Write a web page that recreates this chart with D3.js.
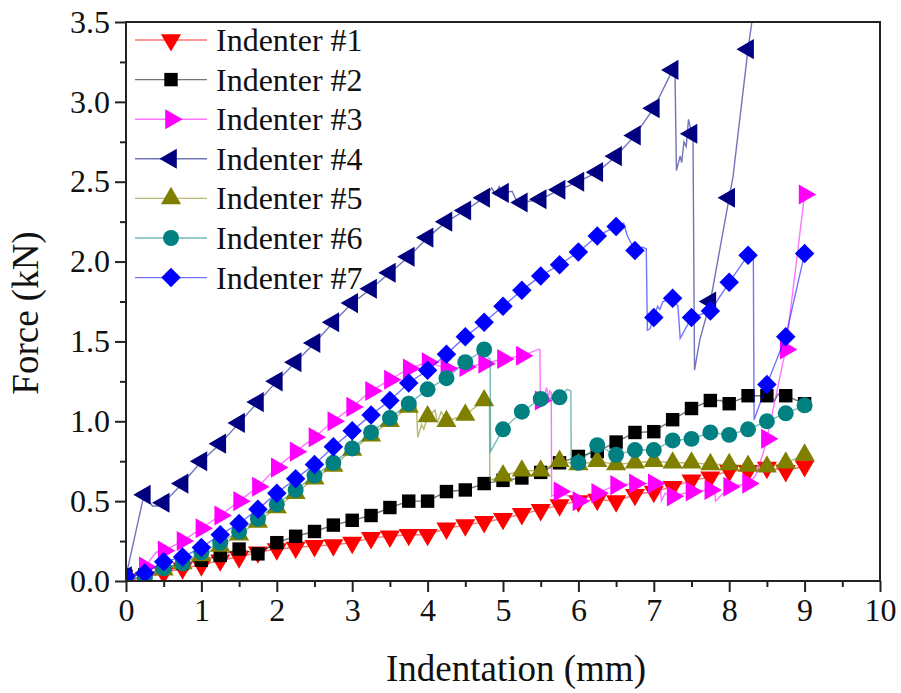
<!DOCTYPE html>
<html>
<head>
<meta charset="utf-8">
<script src="https://cdn.jsdelivr.net/npm/d3@7/dist/d3.min.js"></script>
<style>
  body { margin: 0; background: #fff; }
  text { font-family: "Liberation Serif", "Times New Roman", serif; fill: #111; }
</style>
</head>
<body>
<div id="chart"></div>
<script>
// marker positions (mm) - every 0.25 mm
var indentation = [0, 0.25, 0.5, 0.75, 1, 1.25, 1.5, 1.75, 2, 2.25, 2.5, 2.75, 3, 3.25, 3.5, 3.75,
                   4, 4.25, 4.5, 4.75, 5, 5.25, 5.5, 5.75, 6, 6.25, 6.5, 6.75, 7, 7.25, 7.5, 7.75,
                   8, 8.25, 8.5, 8.75, 9];

// force (kN) at each marker
var ind1 = [0.01, 0.02, 0.05, 0.08, 0.10, 0.13, 0.15, 0.18, 0.20, 0.21, 0.22, 0.225, 0.24, 0.27, 0.28, 0.29,
            0.29, 0.33, 0.35, 0.37, 0.39, 0.42, 0.445, 0.475, 0.50, 0.51, 0.50, 0.54, 0.56, 0.59, 0.63, 0.65,
            0.69, 0.69, 0.71, 0.69, 0.72];
var ind2 = [0.03, 0.04, 0.08, 0.11, 0.13, 0.16, 0.20, 0.17, 0.24, 0.28, 0.31, 0.35, 0.38, 0.41, 0.46, 0.50,
            0.50, 0.56, 0.57, 0.61, 0.63, 0.645, 0.68, 0.74, 0.78, 0.81, 0.87, 0.93, 0.935, 1.01, 1.08, 1.13,
            1.11, 1.16, 1.16, 1.16, 1.11];
var ind3 = [0.00, 0.09, 0.19, 0.25, 0.33, 0.41, 0.50, 0.59, 0.71, 0.81, 0.90, 1.00, 1.09, 1.19, 1.26, 1.33,
            1.37, 1.33, 1.34, 1.36, 1.39, 1.41, 1.13, 0.56, 0.50, 0.55, 0.60, 0.61, 0.61, 0.53, 0.56, 0.57,
            0.59, 0.61, 0.89, 1.45, 2.42];
var ind4 = [0.03, 0.54, 0.49, 0.61, 0.75, 0.86, 0.99, 1.12, 1.25, 1.37, 1.49, 1.62, 1.74, 1.83, 1.93, 2.03,
            2.15, 2.25, 2.32, 2.40, 2.43, 2.37, 2.39, 2.45, 2.50, 2.56, 2.66, 2.79, 2.96, 3.20, 2.80, 1.75,
            2.40, 3.33, null, null, null];
var ind5 = [0.02, 0.01, 0.07, 0.11, 0.16, 0.22, 0.29, 0.37, 0.46, 0.55, 0.64, 0.72, 0.82, 0.91, 1.00, 1.09,
            1.03, 1.00, 1.04, 1.13, 0.66, 0.69, 0.69, 0.75, 0.73, 0.75, 0.73, 0.74, 0.75, 0.74, 0.74, 0.73,
            0.73, 0.72, 0.715, 0.74, 0.79];
var ind6 = [0.02, 0.02, 0.08, 0.11, 0.18, 0.24, 0.31, 0.39, 0.48, 0.57, 0.66, 0.74, 0.83, 0.93, 1.02, 1.11,
            1.20, 1.27, 1.37, 1.45, 0.95, 1.06, 1.14, 1.15, 0.74, 0.85, 0.79, 0.82, 0.82, 0.88, 0.89, 0.93,
            0.915, 0.95, 1.00, 1.05, 1.10];
var ind7 = [0.03, 0.05, 0.12, 0.15, 0.21, 0.29, 0.36, 0.45, 0.55, 0.64, 0.73, 0.84, 0.94, 1.04, 1.13, 1.24,
            1.32, 1.42, 1.53, 1.62, 1.72, 1.82, 1.91, 1.98, 2.06, 2.16, 2.22, 2.07, 1.65, 1.77, 1.65, 1.69,
            1.87, 2.04, 1.23, 1.53, 2.05];

// extra points of the measured curve between markers (drops, wiggles)
var ind1Extra = [];
var ind2Extra = [[7.9, 1.13], [7.95, 1.10], [8.6, 1.13], [8.65, 1.17]];
var ind3Extra = [[0.4, 0.18], [5.47, 1.45], [5.49, 1.45], [5.495, 1.15], [5.55, 1.17], [5.58, 1.21],
                 [5.6, 1.14], [5.62, 1.19], [5.64, 1.18], [5.645, 0.53], [7.08, 0.62], [7.1, 0.50],
                 [7.15, 0.55], [7.8, 0.58], [7.82, 0.50], [8.35, 0.66], [8.45, 0.80]];
var ind4Extra = [[0.22, 0.50], [0.35, 0.47], [0.42, 0.47], [4.85, 2.46], [4.9, 2.42], [4.95, 2.47],
                 [5.12, 2.44], [5.18, 2.38], [7.28, 3.22], [7.3, 2.57], [7.35, 2.66], [7.37, 2.62],
                 [7.4, 2.75], [7.43, 2.72], [7.46, 2.89], [7.48, 2.85], [7.52, 2.78], [7.54, 1.32],
                 [7.61, 1.51], [8.05, 2.53], [8.33, 3.6]];
var ind5Extra = [[3.85, 1.10], [3.87, 0.90], [3.92, 0.98], [3.95, 0.95], [4.1, 1.07], [4.13, 0.99],
                 [4.18, 1.06], [4.8, 1.12], [4.82, 1.11], [4.825, 0.63]];
var ind6Extra = [[4.8, 1.40], [4.83, 1.39], [4.835, 0.81], [5.85, 1.20], [5.9, 1.19], [5.905, 0.73]];
var ind7Extra = [[6.6, 2.24], [6.65, 2.16], [6.85, 2.09], [6.9, 2.08], [6.915, 1.57], [6.95, 1.58],
                 [7.05, 1.72], [7.08, 1.70], [7.12, 1.75], [7.32, 1.72], [7.35, 1.52], [8.3, 2.06],
                 [8.32, 2.06], [8.33, 1.01], [8.4, 1.10]];

var seriesNames = ["Indenter #1", "Indenter #2", "Indenter #3", "Indenter #4", "Indenter #5", "Indenter #6", "Indenter #7"];
var seriesValues = [ind1, ind2, ind3, ind4, ind5, ind6, ind7];
var seriesExtra = [ind1Extra, ind2Extra, ind3Extra, ind4Extra, ind5Extra, ind6Extra, ind7Extra];
var seriesColors = ["#ff0000", "#000000", "#ff00ff", "#000080", "#808000", "#008080", "#0000ff"];

var xTicks = [0, 1, 2, 3, 4, 5, 6, 7, 8, 9, 10];
var yTicks = [0, 0.5, 1.0, 1.5, 2.0, 2.5, 3.0, 3.5];

var W = 901, H = 693;
var plot = { left: 126, right: 880, top: 22, bottom: 581 };

var svg = d3.select("#chart").append("svg")
            .attr("width", W)
            .attr("height", H);

var xScale = d3.scaleLinear().domain([0, 10]).range([plot.left, plot.right]);
var yScale = d3.scaleLinear().domain([0, 3.5]).range([plot.bottom, plot.top]);

svg.append("clipPath").attr("id", "clip")
   .append("rect")
   .attr("x", plot.left).attr("y", plot.top)
   .attr("width", plot.right - plot.left).attr("height", plot.bottom - plot.top);

// symbols: 0 down tri, 1 square, 2 right tri, 3 left tri, 4 up tri, 5 circle, 6 diamond
function symbolPath(i) {
  var tri = d3.symbol().type(d3.symbolTriangle).size(175)();
  if (i == 1) return { d: d3.symbol().type(d3.symbolSquare).size(180)(), rot: 0 };
  if (i == 5) return { d: d3.symbol().type(d3.symbolCircle).size(200)(), rot: 0 };
  if (i == 6) return { d: d3.symbol().type(d3.symbolSquare).size(190)(), rot: 45 };
  var rots = { 0: 180, 2: 90, 3: -90, 4: 0 };
  return { d: tri, rot: rots[i] };
}

var line = d3.line()
             .x(function(d) { return xScale(d[0]); })
             .y(function(d) { return yScale(d[1]); });

var dataG = svg.append("g").attr("clip-path", "url(#clip)");

seriesValues.forEach(function(vals, i) {
  var pts = [];
  vals.forEach(function(v, j) { if (v != null) pts.push([indentation[j], v]); });
  var curve = pts.concat(seriesExtra[i]).sort(function(a, b) { return a[0] - b[0]; });

  dataG.append("path")
       .attr("fill", "none")
       .attr("stroke", seriesColors[i])
       .attr("stroke-opacity", 0.55)
       .attr("stroke-width", 1.4)
       .attr("d", line(curve));

  var sym = symbolPath(i);
  dataG.append("g").selectAll("path")
       .data(pts)
       .enter()
       .append("path")
       .attr("d", sym.d)
       .attr("fill", seriesColors[i])
       .attr("transform", function(d) {
         return "translate(" + xScale(d[0]) + "," + yScale(d[1]) + ") rotate(" + sym.rot + ")";
       });
});

// axes
var xAxis = d3.axisBottom(xScale).tickValues(xTicks).tickSize(11).tickSizeOuter(0).tickPadding(6)
              .tickFormat(d3.format("d"));
var xMinor = d3.axisBottom(xScale).tickValues(d3.range(0.5, 10, 1)).tickSize(6).tickSizeOuter(0).tickFormat("");
var yAxis = d3.axisLeft(yScale).tickValues(yTicks).tickSize(11).tickSizeOuter(0).tickPadding(5)
              .tickFormat(d3.format(".1f"));
var yMinor = d3.axisLeft(yScale).tickValues(d3.range(0.25, 3.5, 0.5)).tickSize(6).tickSizeOuter(0).tickFormat("");

function styleAxis(g) {
  g.select(".domain").remove();
  g.selectAll("line").attr("stroke", "#222").attr("stroke-width", 2);
  g.selectAll("text").style("font-size", "32px").attr("fill", "#111");
}

svg.append("g").attr("transform", "translate(0," + plot.bottom + ")").call(xAxis).call(styleAxis);
svg.append("g").attr("transform", "translate(0," + plot.bottom + ")").call(xMinor).call(styleAxis);
svg.append("g").attr("transform", "translate(" + plot.left + ",0)").call(yAxis).call(styleAxis);
svg.append("g").attr("transform", "translate(" + plot.left + ",0)").call(yMinor).call(styleAxis);

svg.append("rect")
   .attr("x", plot.left).attr("y", plot.top)
   .attr("width", plot.right - plot.left).attr("height", plot.bottom - plot.top)
   .attr("fill", "none").attr("stroke", "#222").attr("stroke-width", 2);

// titles
svg.append("text")
   .attr("x", 516).attr("y", 681)
   .attr("text-anchor", "middle")
   .style("font-size", "37px")
   .text("Indentation (mm)");

svg.append("text")
   .attr("transform", "translate(38,313) rotate(-90)")
   .attr("text-anchor", "middle")
   .style("font-size", "37px")
   .text("Force (kN)");

// legend
var legend = svg.append("g");
seriesNames.forEach(function(name, i) {
  var y = 40 + i * 39.6;
  legend.append("line")
        .attr("x1", 135).attr("x2", 207).attr("y1", y).attr("y2", y)
        .attr("stroke", seriesColors[i]).attr("stroke-opacity", 0.55).attr("stroke-width", 1.4);
  var sym = symbolPath(i);
  legend.append("path")
        .attr("d", sym.d)
        .attr("fill", seriesColors[i])
        .attr("transform", "translate(171," + y + ") rotate(" + sym.rot + ")");
  legend.append("text")
        .attr("x", 216).attr("y", y + 11)
        .style("font-size", "32px")
        .text(name);
});
</script>
</body>
</html>
